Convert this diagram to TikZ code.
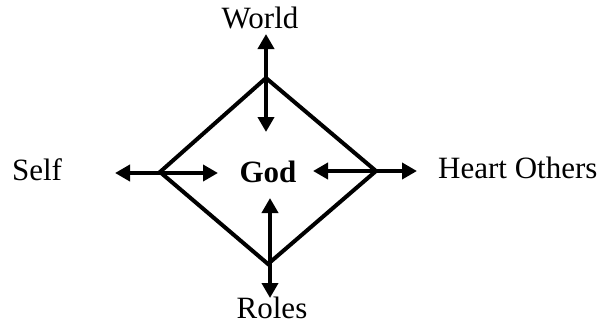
\documentclass[tikz,border=0pt]{standalone}
\usepackage{fontspec}
\setmainfont{Liberation Serif}
\usetikzlibrary{arrows.meta}
\tikzset{
  lbl/.style={font=\fontsize{31}{36}\selectfont, inner sep=0pt},
  dia/.style={line width=4pt, line join=miter},
  dbl/.style={line width=4.5pt, {Triangle[length=15pt,width=16pt]}-{Triangle[length=15pt,width=16pt]}}
}
\begin{document}
\begin{tikzpicture}[x=1pt,y=-1pt]
\useasboundingbox (0,0) rectangle (605,325);
% diamond vertices
\coordinate (t) at (266,78);
\coordinate (l) at (160,172);
\coordinate (r) at (376,171);
\coordinate (b) at (268,264);
\draw[dia] (t) -- (r) -- (b) -- (l) -- cycle;
% arrow endpoints
\coordinate (t1) at (266,34);
\coordinate (t2) at (266,132);
\coordinate (l1) at (115,173);
\coordinate (l2) at (218,173);
\coordinate (r1) at (313,171);
\coordinate (r2) at (417,171);
\coordinate (b1) at (270,198);
\coordinate (b2) at (270,298);
\draw[dbl] (t1) -- (t2);
\draw[dbl] (l1) -- (l2);
\draw[dbl] (r1) -- (r2);
\draw[dbl] (b1) -- (b2);
% labels
\node[lbl] (world) at (260,18) {World};
\node[lbl] (self) at (37,170) {Self};
\node[lbl, font=\fontsize{31}{36}\selectfont\bfseries] (god) at (268,172) {God};
\node[lbl, anchor=west] (heart) at (438,168) {Heart Others};
\node[lbl] (roles) at (272,308) {Roles};
\end{tikzpicture}
\end{document}
